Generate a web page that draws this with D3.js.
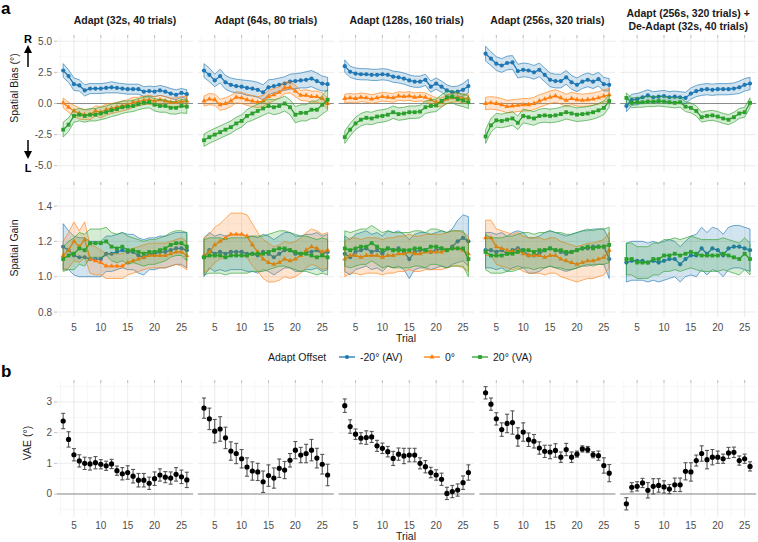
<!DOCTYPE html>
<html><head><meta charset="utf-8">
<script src="https://cdn.jsdelivr.net/npm/d3@7"></script>
<style>body{margin:0;background:#fff}svg{display:block;font-family:"Liberation Sans",Arial,sans-serif}</style>
</head><body><svg id="c" width="758" height="542"></svg>
<script>
// ---------- DATA ----------
const trials = [3,4,5,6,7,8,9,10,11,12,13,14,15,16,17,18,19,20,21,22,23,24,25,26];
const panelTitles = [["Adapt (32s, 40 trials)"],["Adapt (64s, 80 trials)"],["Adapt (128s, 160 trials)"],["Adapt (256s, 320 trials)"],["Adapt (256s, 320 trials) +","De-Adapt (32s, 40 trials)"]];
const seriesNames = ["-20° (AV)","0°","20° (VA)"];
const seriesColors = ["#1f77b4","#ff7f0e","#2ca02c"];
const xTicks = [5,10,15,20,25];
const biasTicks = [-5,-2.5,0,2.5,5];
const biasTickLabels = ["-5.0","-2.5","0.0","2.5","5.0"];
const gainTicks = [0.8,1.0,1.2,1.4];
const gainTickLabels = ["0.8","1.0","1.2","1.4"];
const vaeTicks = [0,1,2,3];

// Spatial bias means (per panel)
const biasAV = [
 [2.65,2.2,1.55,1.45,1.05,1.2,1.2,1.2,1.25,1.3,1.25,1.2,1.15,1.15,1.15,0.95,1.0,0.95,1.05,0.95,0.8,0.7,0.85,0.75],
 [2.65,2.3,1.85,2.2,1.7,1.5,1.4,1.35,1.25,1.2,1.1,0.9,1.3,1.4,1.5,1.6,1.75,1.8,1.85,1.9,2.0,1.8,1.6,1.55],
 [3.0,2.55,2.4,2.35,2.35,2.3,2.3,2.35,2.3,2.15,2.1,2.0,1.85,1.75,1.75,1.9,1.35,1.6,1.35,1.05,0.9,0.95,1.1,1.4],
 [4.0,3.6,3.2,3.05,3.25,3.3,2.6,2.7,2.65,2.5,2.7,2.3,1.9,1.8,1.8,2.1,1.7,1.5,1.75,1.9,1.75,1.95,1.55,1.5],
 [-0.2,0.3,0.35,0.5,0.65,0.5,0.55,0.6,0.5,0.55,0.5,0.45,0.8,1.0,1.1,1.15,1.1,1.15,1.15,1.15,1.2,1.3,1.5,1.6]];
const biasZero = [
 [0.05,-0.3,-0.6,-0.8,-0.9,-0.9,-0.6,-0.7,-0.5,-0.4,-0.3,-0.2,-0.1,0.1,0.15,0.25,0.3,0.2,0.3,0.2,0.1,0.1,0.15,0.2],
 [0.2,0.35,0.3,-0.1,0.0,0.2,0.5,0.45,0.3,0.2,0.1,0.2,0.55,0.7,0.9,1.25,1.3,1.0,0.65,0.65,0.55,0.55,0.4,0.0],
 [0.4,0.45,0.4,0.5,0.45,0.35,0.45,0.55,0.5,0.45,0.6,0.55,0.6,0.5,0.55,0.5,0.3,0.1,0.1,0.35,0.45,0.5,0.4,0.4],
 [0.0,0.05,0.0,-0.1,-0.25,-0.2,-0.15,-0.1,-0.1,0.0,0.2,0.35,0.5,0.6,0.45,0.25,0.4,0.3,0.25,0.3,0.35,0.45,0.6,0.7],
 null];
const biasVA = [
 [-2.1,-1.7,-1.0,-0.9,-1.0,-0.9,-0.9,-0.8,-0.7,-0.55,-0.45,-0.3,-0.25,-0.2,-0.05,0.05,0.1,-0.1,-0.2,-0.2,-0.35,-0.35,-0.2,-0.25],
 [-2.95,-2.7,-2.5,-2.3,-2.1,-1.9,-1.6,-1.4,-1.0,-0.8,-0.6,-0.4,-0.2,-0.3,-0.2,0.0,-0.3,-0.9,-0.75,-0.75,-0.5,-0.5,-0.1,0.3],
 [-2.7,-2.1,-1.6,-1.3,-1.15,-1.2,-1.05,-1.0,-0.9,-0.7,-0.85,-0.8,-0.7,-0.7,-0.65,-0.3,-0.2,-0.15,0.2,0.5,0.55,0.35,0.25,0.1],
 [-2.65,-1.75,-1.35,-1.4,-1.3,-1.2,-1.55,-1.0,-1.1,-1.2,-1.0,-0.95,-1.0,-0.95,-0.85,-0.7,-0.8,-0.9,-0.85,-0.8,-0.7,-0.55,-0.35,0.2],
 [0.45,0.05,0.1,0.1,0.15,0.15,0.2,0.15,0.1,0.05,0.1,-0.25,-0.35,-0.6,-1.1,-1.0,-0.95,-1.05,-1.2,-1.3,-1.1,-0.8,-0.7,0.05]];
// Spatial bias ribbon half-widths
const biasAVErr = [
 [0.55,0.5,0.5,0.45,0.45,0.4,0.4,0.4,0.4,0.45,0.4,0.4,0.4,0.4,0.4,0.4,0.4,0.4,0.4,0.4,0.4,0.4,0.35,0.35],
 [0.55,0.55,0.5,0.55,0.55,0.55,0.55,0.55,0.6,0.6,0.6,0.6,0.6,0.55,0.55,0.55,0.6,0.6,0.6,0.65,0.65,0.65,0.6,0.55],
 [0.5,0.45,0.45,0.45,0.45,0.45,0.45,0.45,0.45,0.45,0.45,0.45,0.45,0.45,0.45,0.45,0.45,0.45,0.45,0.45,0.45,0.45,0.5,0.55],
 [0.6,0.55,0.55,0.55,0.55,0.55,0.55,0.55,0.55,0.55,0.55,0.55,0.55,0.55,0.55,0.55,0.55,0.55,0.55,0.55,0.55,0.55,0.55,0.5],
 [0.45,0.45,0.45,0.45,0.45,0.45,0.45,0.45,0.45,0.45,0.45,0.45,0.45,0.45,0.45,0.45,0.45,0.45,0.45,0.45,0.45,0.5,0.5,0.5]];
const biasZeroErr = [
 [0.4,0.4,0.45,0.45,0.4,0.4,0.4,0.45,0.45,0.4,0.4,0.4,0.4,0.4,0.35,0.35,0.35,0.35,0.35,0.35,0.35,0.35,0.4,0.4],
 [0.4,0.45,0.45,0.45,0.45,0.45,0.45,0.45,0.45,0.45,0.45,0.45,0.5,0.5,0.45,0.45,0.45,0.45,0.4,0.45,0.45,0.45,0.45,0.45],
 [0.35,0.35,0.35,0.35,0.35,0.35,0.35,0.35,0.35,0.35,0.35,0.35,0.35,0.35,0.35,0.35,0.35,0.35,0.35,0.35,0.35,0.35,0.35,0.35],
 [0.5,0.5,0.5,0.5,0.5,0.5,0.5,0.5,0.5,0.5,0.5,0.5,0.5,0.5,0.5,0.5,0.5,0.5,0.5,0.5,0.5,0.5,0.5,0.5],
 null];
const biasVAErr = [
 [0.6,0.55,0.5,0.5,0.5,0.5,0.5,0.5,0.5,0.5,0.5,0.5,0.45,0.45,0.45,0.45,0.45,0.5,0.5,0.5,0.5,0.5,0.55,0.55],
 [0.5,0.5,0.5,0.5,0.5,0.5,0.5,0.5,0.5,0.55,0.55,0.55,0.55,0.6,0.6,0.6,0.6,0.65,0.65,0.65,0.7,0.7,0.75,0.85],
 [0.5,0.5,0.5,0.5,0.5,0.5,0.5,0.5,0.5,0.5,0.5,0.5,0.5,0.5,0.5,0.5,0.5,0.5,0.5,0.5,0.5,0.5,0.5,0.5],
 [0.55,0.55,0.55,0.55,0.55,0.55,0.55,0.55,0.55,0.55,0.55,0.55,0.55,0.55,0.55,0.55,0.55,0.55,0.55,0.55,0.55,0.55,0.55,0.5],
 [0.4,0.4,0.4,0.4,0.4,0.4,0.4,0.4,0.4,0.4,0.4,0.4,0.4,0.4,0.4,0.4,0.4,0.4,0.4,0.4,0.4,0.4,0.4,0.4]];

// Spatial gain means
const gainAV = [
 [1.17,1.15,1.12,1.11,1.11,1.1,1.1,1.1,1.13,1.13,1.14,1.15,1.14,1.14,1.12,1.11,1.13,1.13,1.14,1.14,1.15,1.16,1.16,1.15],
 [1.11,1.15,1.13,1.14,1.13,1.14,1.14,1.14,1.13,1.13,1.12,1.14,1.13,1.11,1.13,1.15,1.15,1.13,1.13,1.14,1.14,1.15,1.13,1.14],
 [1.13,1.11,1.14,1.15,1.16,1.14,1.15,1.13,1.16,1.15,1.16,1.14,1.1,1.14,1.15,1.15,1.14,1.15,1.16,1.15,1.17,1.2,1.22,1.2],
 [1.15,1.15,1.14,1.15,1.13,1.15,1.16,1.15,1.12,1.12,1.13,1.15,1.16,1.15,1.14,1.13,1.14,1.15,1.16,1.16,1.17,1.17,1.17,1.1],
 [1.08,1.09,1.09,1.09,1.08,1.09,1.08,1.09,1.1,1.1,1.07,1.1,1.12,1.12,1.16,1.13,1.16,1.15,1.12,1.16,1.17,1.17,1.16,1.15]];
const gainZero = [
 [1.12,1.15,1.2,1.17,1.21,1.1,1.09,1.08,1.06,1.06,1.06,1.06,1.08,1.09,1.1,1.11,1.12,1.12,1.12,1.12,1.13,1.14,1.14,1.12],
 [1.12,1.14,1.18,1.2,1.22,1.24,1.24,1.24,1.23,1.18,1.14,1.1,1.08,1.07,1.08,1.1,1.09,1.1,1.12,1.15,1.17,1.16,1.14,1.15],
 [1.1,1.12,1.12,1.11,1.12,1.12,1.12,1.11,1.12,1.12,1.13,1.13,1.14,1.13,1.13,1.14,1.14,1.14,1.14,1.15,1.16,1.16,1.15,1.13],
 [1.22,1.22,1.17,1.16,1.15,1.14,1.15,1.13,1.12,1.12,1.12,1.11,1.12,1.12,1.1,1.09,1.08,1.07,1.08,1.09,1.09,1.1,1.11,1.15],
 null];
const gainVA = [
 [1.1,1.12,1.13,1.16,1.15,1.19,1.19,1.19,1.2,1.17,1.16,1.17,1.15,1.15,1.14,1.13,1.14,1.14,1.15,1.16,1.18,1.19,1.19,1.17],
 [1.11,1.12,1.12,1.12,1.11,1.12,1.12,1.12,1.12,1.13,1.13,1.13,1.14,1.15,1.16,1.16,1.15,1.14,1.13,1.13,1.12,1.11,1.12,1.11],
 [1.16,1.15,1.16,1.17,1.17,1.19,1.17,1.15,1.16,1.15,1.15,1.15,1.15,1.16,1.16,1.15,1.17,1.17,1.16,1.15,1.16,1.16,1.16,1.1],
 [1.14,1.12,1.12,1.12,1.13,1.13,1.14,1.15,1.15,1.14,1.15,1.15,1.16,1.15,1.15,1.14,1.14,1.15,1.16,1.17,1.16,1.17,1.17,1.18],
 [1.1,1.1,1.08,1.08,1.08,1.1,1.1,1.12,1.12,1.13,1.12,1.13,1.14,1.13,1.12,1.12,1.12,1.12,1.13,1.12,1.11,1.1,1.13,1.1]];
const gainAVErr = [
 [0.13,0.11,0.11,0.11,0.11,0.1,0.1,0.1,0.1,0.1,0.1,0.1,0.1,0.1,0.1,0.1,0.09,0.09,0.09,0.09,0.09,0.09,0.09,0.1],
 [0.11,0.1,0.1,0.1,0.1,0.1,0.1,0.1,0.1,0.1,0.1,0.1,0.1,0.1,0.1,0.1,0.1,0.1,0.1,0.1,0.1,0.1,0.1,0.1],
 [0.1,0.1,0.1,0.1,0.1,0.1,0.1,0.1,0.1,0.1,0.1,0.1,0.11,0.1,0.1,0.1,0.1,0.1,0.1,0.1,0.1,0.12,0.13,0.14],
 [0.1,0.1,0.1,0.1,0.1,0.1,0.1,0.1,0.1,0.1,0.1,0.1,0.1,0.1,0.1,0.1,0.1,0.1,0.1,0.1,0.1,0.1,0.1,0.11],
 [0.11,0.11,0.11,0.11,0.11,0.11,0.11,0.11,0.11,0.1,0.1,0.1,0.11,0.12,0.12,0.12,0.12,0.12,0.12,0.12,0.12,0.12,0.12,0.12]];
const gainZeroErr = [
 [0.08,0.1,0.11,0.09,0.1,0.08,0.08,0.07,0.07,0.07,0.07,0.07,0.07,0.07,0.07,0.07,0.07,0.07,0.07,0.07,0.07,0.07,0.08,0.08],
 [0.1,0.1,0.1,0.1,0.11,0.12,0.12,0.12,0.12,0.12,0.11,0.11,0.11,0.1,0.1,0.1,0.1,0.1,0.1,0.1,0.1,0.1,0.1,0.1],
 [0.1,0.1,0.1,0.1,0.1,0.1,0.1,0.1,0.1,0.1,0.1,0.1,0.1,0.1,0.1,0.1,0.1,0.1,0.1,0.1,0.1,0.1,0.1,0.1],
 [0.1,0.1,0.1,0.1,0.1,0.1,0.1,0.1,0.1,0.1,0.1,0.1,0.1,0.1,0.1,0.1,0.1,0.1,0.1,0.1,0.1,0.1,0.1,0.1],
 null];
const gainVAErr = [
 [0.07,0.08,0.09,0.09,0.09,0.08,0.08,0.08,0.08,0.08,0.08,0.08,0.08,0.07,0.07,0.07,0.07,0.07,0.07,0.07,0.07,0.07,0.07,0.08],
 [0.1,0.1,0.1,0.1,0.1,0.1,0.1,0.1,0.1,0.1,0.1,0.1,0.1,0.1,0.1,0.1,0.1,0.1,0.1,0.1,0.1,0.1,0.1,0.1],
 [0.1,0.1,0.1,0.1,0.1,0.1,0.1,0.1,0.1,0.1,0.1,0.1,0.1,0.1,0.1,0.1,0.1,0.1,0.1,0.1,0.1,0.1,0.1,0.1],
 [0.1,0.1,0.1,0.1,0.1,0.1,0.1,0.1,0.1,0.1,0.1,0.1,0.1,0.1,0.1,0.1,0.1,0.1,0.1,0.1,0.1,0.1,0.1,0.1],
 [0.09,0.09,0.09,0.09,0.09,0.09,0.09,0.09,0.09,0.09,0.09,0.09,0.09,0.09,0.09,0.09,0.09,0.09,0.09,0.09,0.09,0.09,0.09,0.09]];

// VAE (panel b)
const vaeMean = [
 [2.38,1.78,1.28,1.08,1.0,0.98,1.02,0.97,0.92,0.98,0.76,0.66,0.7,0.58,0.45,0.45,0.35,0.5,0.62,0.55,0.52,0.64,0.56,0.46],
 [2.8,2.45,2.05,2.12,1.83,1.4,1.32,1.15,0.88,0.75,0.72,0.4,0.6,0.52,0.84,0.78,1.1,1.43,1.27,1.32,1.43,1.17,0.97,0.62],
 [2.88,2.2,1.95,1.82,1.84,1.86,1.57,1.49,1.38,1.16,1.3,1.24,1.27,1.27,1.0,0.89,0.7,0.62,0.48,0.02,0.08,0.13,0.37,0.7],
 [3.3,2.93,2.45,2.1,2.3,2.33,1.86,2.02,1.77,1.72,1.5,1.39,1.37,1.42,1.2,1.45,1.2,1.3,1.47,1.45,1.28,1.25,0.93,0.68],
 [-0.32,0.22,0.25,0.36,0.12,0.25,0.28,0.23,0.16,0.3,0.3,0.74,0.72,1.09,1.32,1.12,1.2,1.2,1.15,1.34,1.36,1.09,1.15,0.9]];
const vaeErr = [
 [0.25,0.25,0.2,0.2,0.2,0.2,0.2,0.15,0.15,0.15,0.15,0.2,0.22,0.22,0.22,0.22,0.2,0.22,0.2,0.18,0.2,0.22,0.22,0.25],
 [0.33,0.35,0.38,0.4,0.35,0.3,0.33,0.3,0.3,0.3,0.28,0.35,0.35,0.33,0.3,0.28,0.22,0.28,0.25,0.3,0.35,0.32,0.32,0.35],
 [0.22,0.22,0.17,0.18,0.22,0.18,0.18,0.17,0.17,0.23,0.2,0.25,0.22,0.22,0.18,0.2,0.17,0.17,0.2,0.2,0.2,0.2,0.22,0.25],
 [0.2,0.2,0.2,0.22,0.3,0.38,0.3,0.3,0.22,0.22,0.2,0.2,0.22,0.22,0.17,0.2,0.17,0.1,0.1,0.1,0.1,0.15,0.25,0.28],
 [0.2,0.15,0.15,0.15,0.25,0.25,0.22,0.2,0.15,0.22,0.22,0.28,0.3,0.18,0.25,0.3,0.25,0.2,0.15,0.18,0.17,0.15,0.15,0.15]];

// ---------- LAYOUT ----------
const svg = d3.select("#c");
const panelLeft0 = 57, panelW = 136, panelStep = 140.8;
const rows = {
  bias: {top: 35, bottom: 172, domain: [-5.5, 5.5]},
  gain: {top: 182, bottom: 317, domain: [0.772, 1.536]},
  vae:  {top: 380, bottom: 517, domain: [-0.75, 3.717]}
};
const textCol = "#4d4d4d";

function xScaleFor(i){
  const l = panelLeft0 + i*panelStep;
  return d3.scaleLinear().domain([1.85, 27.15]).range([l, l+panelW]);
}

function drawFrame(x, y, yMinor, xMinor, yTicks, drawZero){
  const g = svg.append("g");
  const [x0,x1] = x.range(), [y1,y0] = y.range();
  yMinor.forEach(v=>g.append("line").attr("x1",x0).attr("x2",x1).attr("y1",y(v)).attr("y2",y(v)).attr("stroke","#f2f2f2").attr("stroke-width",0.6));
  xMinor.forEach(v=>g.append("line").attr("y1",y0).attr("y2",y1).attr("x1",x(v)).attr("x2",x(v)).attr("stroke","#f2f2f2").attr("stroke-width",0.6));
  yTicks.forEach(v=>g.append("line").attr("x1",x0).attr("x2",x1).attr("y1",y(v)).attr("y2",y(v)).attr("stroke","#e6e6e6").attr("stroke-width",0.8));
  xTicks.forEach(v=>g.append("line").attr("y1",y0).attr("y2",y1).attr("x1",x(v)).attr("x2",x(v)).attr("stroke","#e6e6e6").attr("stroke-width",0.8));
  if(drawZero) g.append("line").attr("x1",x0).attr("x2",x1).attr("y1",y(0)).attr("y2",y(0)).attr("stroke","#8c8c8c").attr("stroke-width",1);
  xTicks.forEach(v=>g.append("line").attr("x1",x(v)).attr("x2",x(v)).attr("y1",y0).attr("y2",y0+3).attr("stroke","#b3b3b3").attr("stroke-width",0.8));
  return g;
}

function drawBorder(x,y){
  const [x0,x1] = x.range(), [y1,y0] = y.range();
  svg.append("rect").attr("x",x0).attr("y",y1).attr("width",x1-x0).attr("height",y0-y1)
    .attr("fill","none").attr("stroke","#b3b3b3").attr("stroke-width",0.9);
}

function marker(g, k, cx, cy, col){
  if(k===0) g.append("circle").attr("cx",cx).attr("cy",cy).attr("r",2.1).attr("fill",col);
  else if(k===1) g.append("path").attr("d",d3.symbol(d3.symbolTriangle,11)()).attr("transform",`translate(${cx},${cy})`).attr("fill",col);
  else g.append("rect").attr("x",cx-1.9).attr("y",cy-1.9).attr("width",3.8).attr("height",3.8).attr("fill",col);
}

function drawSeries(x, y, mean, err, k){
  if(!mean) return;
  const col = seriesColors[k];
  const g = svg.append("g");
  const pts = trials.map((t,j)=>({t, m:mean[j], e:err[j]}));
  const area = d3.area().x(d=>x(d.t)).y0(d=>y(d.m-d.e)).y1(d=>y(d.m+d.e));
  g.append("path").attr("d",area(pts)).attr("fill",col).attr("fill-opacity",0.2).attr("stroke",col).attr("stroke-width",0.7).attr("stroke-opacity",0.9);
  g.append("path").attr("d",d3.line().x(d=>x(d.t)).y(d=>y(d.m))(pts)).attr("fill","none").attr("stroke",col).attr("stroke-width",1.3);
  pts.forEach(d=>marker(g,k,x(d.t),y(d.m),col));
}

function yAxisLabels(y, ticks, labels, x0){
  ticks.forEach((v,i)=>{
    svg.append("line").attr("x1",x0-3).attr("x2",x0).attr("y1",y(v)).attr("y2",y(v)).attr("stroke","#b3b3b3").attr("stroke-width",0.8);
    svg.append("text").attr("x",x0-5).attr("y",y(v)).attr("dy","0.35em").attr("text-anchor","end")
      .attr("font-size",10).attr("fill",textCol).text(labels[i]);
  });
}

function xAxisLabels(x, yPos){
  xTicks.forEach(v=>svg.append("text").attr("x",x(v)).attr("y",yPos).attr("text-anchor","middle").attr("font-size",10).attr("fill",textCol).text(v));
}

const biasMinor=[-3.75,-1.25,1.25,3.75];
const gainMinor=[0.9,1.1,1.3,1.5];
const vaeMinor=[-0.5,0.5,1.5,2.5,3.5];
const xMinor=[2.5,7.5,12.5,17.5,22.5];

for(let i=0;i<5;i++){
  const x = xScaleFor(i);
  const yb = d3.scaleLinear().domain(rows.bias.domain).range([rows.bias.bottom, rows.bias.top]);
  drawFrame(x, yb, biasMinor, xMinor, biasTicks, true);
  drawSeries(x, yb, biasAV[i], biasAVErr[i], 0);
  drawSeries(x, yb, biasZero[i], biasZeroErr[i], 1);
  drawSeries(x, yb, biasVA[i], biasVAErr[i], 2);
  drawBorder(x, yb);
  const yg = d3.scaleLinear().domain(rows.gain.domain).range([rows.gain.bottom, rows.gain.top]);
  drawFrame(x, yg, gainMinor, xMinor, gainTicks, false);
  drawSeries(x, yg, gainAV[i], gainAVErr[i], 0);
  drawSeries(x, yg, gainZero[i], gainZeroErr[i], 1);
  drawSeries(x, yg, gainVA[i], gainVAErr[i], 2);
  drawBorder(x, yg);
  xAxisLabels(x, 331);
  const yv = d3.scaleLinear().domain(rows.vae.domain).range([rows.vae.bottom, rows.vae.top]);
  drawFrame(x, yv, vaeMinor, xMinor, vaeTicks, true);
  const gv = svg.append("g");
  trials.forEach((t,j)=>{
    const m=vaeMean[i][j], e=vaeErr[i][j], cx=x(t);
    gv.append("line").attr("x1",cx).attr("x2",cx).attr("y1",yv(m-e)).attr("y2",yv(m+e)).attr("stroke","#555").attr("stroke-width",1.1);
    gv.append("line").attr("x1",cx-2).attr("x2",cx+2).attr("y1",yv(m-e)).attr("y2",yv(m-e)).attr("stroke","#555").attr("stroke-width",1.1);
    gv.append("line").attr("x1",cx-2).attr("x2",cx+2).attr("y1",yv(m+e)).attr("y2",yv(m+e)).attr("stroke","#555").attr("stroke-width",1.1);
    gv.append("circle").attr("cx",cx).attr("cy",yv(m)).attr("r",2.6).attr("fill","#000");
  });
  drawBorder(x, yv);
  xAxisLabels(x, 529);
  const cxT = (x.range()[0]+x.range()[1])/2;
  const lines = panelTitles[i];
  lines.forEach((s,li)=>{
    const yy = lines.length===1 ? 24 : 17 + li*12.5;
    svg.append("text").attr("x",cxT).attr("y",yy).attr("text-anchor","middle").attr("font-size",10.5).attr("font-weight","bold").attr("fill","#1a1a1a").text(s);
  });
  if(i===0){
    yAxisLabels(yb, biasTicks, biasTickLabels, x.range()[0]);
    yAxisLabels(yg, gainTicks, gainTickLabels, x.range()[0]);
    yAxisLabels(yv, vaeTicks, vaeTicks.map(String), x.range()[0]);
  }
}

function vText(x,y,s,size){
  svg.append("text").attr("transform",`translate(${x},${y}) rotate(-90)`).attr("text-anchor","middle").attr("font-size",size||10.5).attr("fill","#1a1a1a").text(s);
}
vText(18, 88, "Spatial Bias (°)");
vText(18, 248, "Spatial Gain");
vText(31, 443, "VAE (°)");
svg.append("text").attr("x",406).attr("y",342).attr("text-anchor","middle").attr("font-size",10.5).attr("fill","#1a1a1a").text("Trial");
svg.append("text").attr("x",406).attr("y",540).attr("text-anchor","middle").attr("font-size",10.5).attr("fill","#1a1a1a").text("Trial");

svg.append("text").attr("x",28).attr("y",43).attr("text-anchor","middle").attr("font-size",11).attr("font-weight","bold").text("R");
svg.append("text").attr("x",28).attr("y",172).attr("text-anchor","middle").attr("font-size",11).attr("font-weight","bold").text("L");
svg.append("line").attr("x1",28).attr("x2",28).attr("y1",67).attr("y2",52).attr("stroke","#000").attr("stroke-width",1.5);
svg.append("path").attr("d","M24,53 L28,45 L32,53 Z").attr("fill","#000");
svg.append("line").attr("x1",28).attr("x2",28).attr("y1",140).attr("y2",152).attr("stroke","#000").attr("stroke-width",1.5);
svg.append("path").attr("d","M24,151 L28,159 L32,151 Z").attr("fill","#000");

svg.append("text").attr("x",1).attr("y",14).attr("font-size",17).attr("font-weight","bold").text("a");
svg.append("text").attr("x",1).attr("y",377).attr("font-size",17).attr("font-weight","bold").text("b");

const ly = 357;
svg.append("text").attr("x",268).attr("y",ly).attr("dy","0.35em").attr("font-size",10.5).attr("fill","#1a1a1a").text("Adapt Offset");
const keyX = [339, 424, 472];
seriesNames.forEach((s,k)=>{
  const g = svg.append("g");
  g.append("line").attr("x1",keyX[k]).attr("x2",keyX[k]+16).attr("y1",ly).attr("y2",ly).attr("stroke",seriesColors[k]).attr("stroke-width",1.3);
  marker(g,k,keyX[k]+8,ly,seriesColors[k]);
  svg.append("text").attr("x",keyX[k]+21).attr("y",ly).attr("dy","0.35em").attr("font-size",10.5).attr("fill","#1a1a1a").text(s);
});
</script></body></html>
